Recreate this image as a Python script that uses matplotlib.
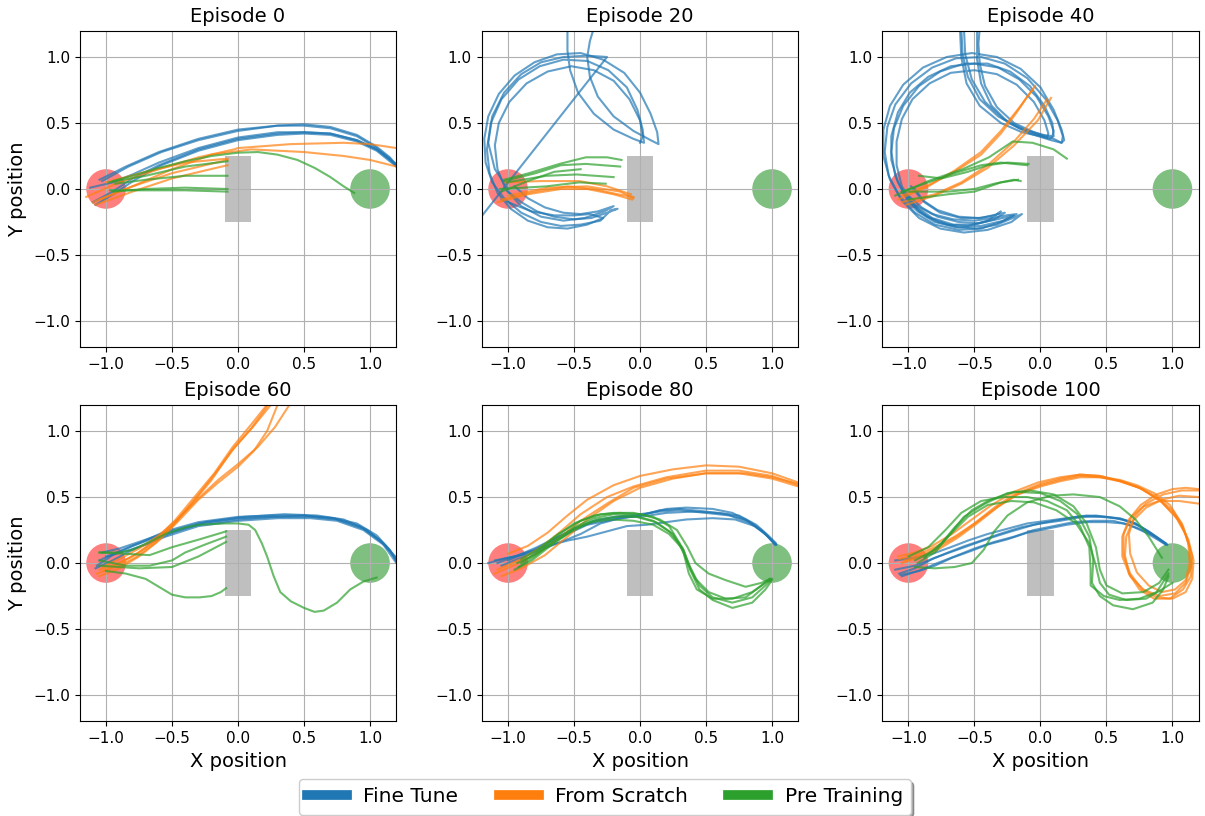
import matplotlib.pyplot as plt
from matplotlib.patches import Circle, Rectangle
from matplotlib.lines import Line2D

episodes = [0, 20, 40, 60, 80, 100]
methods = ["Fine Tune", "From Scratch", "Pre Training"]
colors = ["tab:blue", "tab:orange", "tab:green"]

# trajectories, (x, y) per step

# ---- episode 0
ep0_fine = [
    [(-1.05, 0.07), (-0.85, 0.17), (-0.6, 0.28), (-0.3, 0.38), (0.0, 0.45), (0.3, 0.48), (0.5, 0.49), (0.7, 0.47), (0.9, 0.41), (1.05, 0.32), (1.15, 0.24), (1.2, 0.18)],
    [(-1.03, 0.06), (-0.83, 0.17), (-0.58, 0.28), (-0.3, 0.37), (0.0, 0.44), (0.3, 0.48), (0.5, 0.48), (0.7, 0.46), (0.9, 0.4), (1.05, 0.31), (1.15, 0.23), (1.2, 0.17)],
    [(-1.1, -0.1), (-0.95, -0.02), (-0.8, 0.08), (-0.6, 0.18), (-0.3, 0.3), (0.0, 0.38), (0.3, 0.42), (0.5, 0.43), (0.7, 0.42), (0.9, 0.37), (1.05, 0.3), (1.2, 0.18)],
    [(-1.08, -0.12), (-0.93, -0.03), (-0.78, 0.07), (-0.58, 0.18), (-0.3, 0.29), (0.0, 0.37), (0.3, 0.41), (0.5, 0.42), (0.7, 0.41), (0.9, 0.36), (1.05, 0.29), (1.2, 0.17)],
    [(-1.12, 0.01), (-0.95, 0.05), (-0.8, 0.11), (-0.6, 0.2), (-0.3, 0.31), (0.0, 0.39), (0.3, 0.43), (0.5, 0.43), (0.7, 0.42), (0.9, 0.37), (1.05, 0.3), (1.2, 0.19)],
]
ep0_scratch = [
    [(-1.15, -0.06), (-0.9, 0.05), (-0.6, 0.15), (-0.3, 0.24), (-0.03, 0.3), (0.0, 0.31), (0.4, 0.34), (0.8, 0.35), (1.0, 0.34), (1.2, 0.31)],
    [(-1.1, -0.1), (-0.8, 0.02), (-0.5, 0.15), (-0.2, 0.26), (0.1, 0.3), (0.5, 0.28), (0.8, 0.25), (1.0, 0.22), (1.2, 0.17)],
    [(-1.05, -0.08), (-0.8, 0.02), (-0.5, 0.12), (-0.25, 0.18), (-0.08, 0.22)],
    [(-1.08, -0.12), (-0.8, -0.02), (-0.5, 0.08), (-0.25, 0.14), (-0.08, 0.18)],
    [(-1.0, 0.05), (-0.7, 0.13), (-0.4, 0.2), (-0.08, 0.23)],
]
ep0_pre = [
    [(-0.95, 0.06), (-0.8, 0.1), (-0.6, 0.16), (-0.4, 0.21), (-0.2, 0.25), (0.0, 0.275), (0.15, 0.28), (0.3, 0.26),
     (0.45, 0.22), (0.58, 0.16), (0.7, 0.09), (0.8, 0.02), (0.88, -0.03)],
    [(-0.98, 0.05), (-0.7, 0.1), (-0.4, 0.17), (-0.08, 0.21)],
    [(-0.93, 0.04), (-0.7, 0.07), (-0.4, 0.1), (-0.08, 0.1)],
    [(-0.95, -0.02), (-0.7, 0.0), (-0.4, 0.01), (-0.08, 0.0)],
    [(-0.97, -0.01), (-0.7, -0.01), (-0.4, -0.01), (-0.08, -0.02)],
]

# ---- episode 20
ep20_fine = [
    [(-1.0, -0.02), (-0.9, -0.1), (-0.78, -0.17), (-0.65, -0.21), (-0.5, -0.23), (-0.37, -0.22), (-0.25, -0.18), (-0.17, -0.15),
     (-0.22, -0.16), (-0.3, -0.24), (-0.45, -0.27), (-0.6, -0.28), (-0.75, -0.25), (-0.9, -0.18), (-1.03, -0.07), (-1.12, 0.05),
     (-1.17, 0.2), (-1.18, 0.38), (-1.15, 0.55), (-1.07, 0.72), (-0.95, 0.86), (-0.8, 0.96), (-0.63, 1.02), (-0.45, 1.03),
     (-0.28, 0.98), (-0.12, 0.88), (0.0, 0.73), (0.08, 0.57), (0.13, 0.43), (0.14, 0.34), (0.08, 0.37), (-0.05, 0.44),
     (-0.2, 0.55), (-0.32, 0.7), (-0.38, 0.85), (-0.4, 1.0), (-0.38, 1.12), (-0.35, 1.22)],
    [(-1.05, -0.08), (-0.95, -0.12), (-0.82, -0.17), (-0.65, -0.2), (-0.5, -0.2), (-0.38, -0.19), (-0.28, -0.22),
     (-0.4, -0.27), (-0.55, -0.3), (-0.7, -0.29), (-0.85, -0.24), (-0.98, -0.15), (-1.08, -0.03), (-1.14, 0.12),
     (-1.16, 0.3), (-1.13, 0.5), (-1.05, 0.68), (-0.92, 0.83), (-0.76, 0.93), (-0.58, 0.98), (-0.4, 0.97), (-0.24, 0.9),
     (-0.1, 0.77), (-0.02, 0.6), (0.02, 0.45), (0.03, 0.35), (-0.05, 0.38), (-0.2, 0.45), (-0.35, 0.57), (-0.47, 0.73),
     (-0.53, 0.9), (-0.55, 1.05), (-0.55, 1.22)],
    [(-0.95, 0.02), (-0.85, -0.07), (-0.72, -0.14), (-0.58, -0.18), (-0.45, -0.19), (-0.32, -0.17), (-0.2, -0.13),
     (-0.27, -0.17), (-0.42, -0.22), (-0.58, -0.24), (-0.75, -0.21), (-0.9, -0.13), (-1.02, 0.0), (-1.08, 0.15),
     (-1.1, 0.33), (-1.07, 0.5), (-0.99, 0.66), (-0.86, 0.8), (-0.7, 0.89), (-0.52, 0.93), (-0.35, 0.9), (-0.2, 0.82),
     (-0.08, 0.68), (0.0, 0.52), (0.02, 0.4), (0.0, 0.35)],
    [(-1.0, 0.0), (-1.1, 0.15), (-1.15, 0.35), (-1.12, 0.55), (-1.03, 0.73), (-0.9, 0.87), (-0.75, 0.96), (-0.58, 1.0),
     (-0.4, 1.01), (-0.25, 1.0), (-1.25, -0.27)],
]
ep20_scratch = [
    [(-1.08, -0.1), (-0.85, -0.04), (-0.6, 0.0), (-0.4, 0.0), (-0.2, -0.04), (-0.06, -0.08)],
    [(-1.05, -0.08), (-0.8, -0.02), (-0.55, 0.02), (-0.35, 0.0), (-0.17, -0.04), (-0.05, -0.06)],
    [(-1.02, 0.05), (-0.75, 0.06), (-0.46, 0.06), (-0.25, 0.02), (-0.07, -0.04)],
    [(-1.0, -0.05), (-0.7, 0.01), (-0.4, 0.02), (-0.15, -0.02), (-0.05, -0.07)],
]
ep20_pre = [
    [(-1.03, 0.07), (-0.84, 0.12), (-0.61, 0.19), (-0.41, 0.24), (-0.25, 0.24), (-0.14, 0.22)],
    [(-1.03, 0.06), (-0.79, 0.12), (-0.6, 0.18), (-0.41, 0.19), (-0.15, 0.17)],
    [(-1.01, 0.05), (-0.71, 0.1), (-0.48, 0.11), (-0.2, 0.09)],
    [(-1.06, 0.0), (-0.71, 0.02), (-0.46, 0.05), (-0.26, 0.04)],
    [(-1.05, -0.02), (-0.85, 0.06), (-0.65, 0.13), (-0.45, 0.15)],
]

# ---- episode 40
ep40_fine = [
    [(-1.0, -0.05), (-0.9, -0.14), (-0.78, -0.21), (-0.62, -0.25), (-0.47, -0.26), (-0.33, -0.23), (-0.2, -0.2),
     (-0.3, -0.25), (-0.45, -0.3), (-0.62, -0.31), (-0.8, -0.27), (-0.95, -0.18), (-1.07, -0.05), (-1.15, 0.1),
     (-1.18, 0.28), (-1.16, 0.47), (-1.1, 0.64), (-0.98, 0.8), (-0.82, 0.92), (-0.64, 0.99), (-0.45, 1.0), (-0.27, 0.95),
     (-0.1, 0.84), (0.04, 0.68), (0.13, 0.52), (0.17, 0.4), (0.16, 0.35), (0.1, 0.38), (-0.05, 0.43), (-0.2, 0.5),
     (-0.33, 0.62), (-0.42, 0.78), (-0.46, 0.95), (-0.47, 1.1), (-0.46, 1.22)],
    [(-1.05, -0.02), (-0.95, -0.12), (-0.82, -0.19), (-0.66, -0.23), (-0.5, -0.24), (-0.36, -0.22), (-0.26, -0.2), (-0.18, -0.19),
     (-0.28, -0.24), (-0.45, -0.28), (-0.62, -0.29), (-0.78, -0.25), (-0.92, -0.17), (-1.03, -0.05), (-1.1, 0.1),
     (-1.13, 0.28), (-1.11, 0.46), (-1.04, 0.63), (-0.92, 0.78), (-0.76, 0.89), (-0.58, 0.95), (-0.4, 0.95), (-0.23, 0.89),
     (-0.08, 0.78), (0.03, 0.63), (0.09, 0.5), (0.1, 0.4), (0.07, 0.38), (0.0, 0.4), (-0.14, 0.43), (-0.3, 0.5),
     (-0.46, 0.63), (-0.56, 0.8), (-0.6, 1.0), (-0.61, 1.22)],
    [(-0.95, 0.0), (-0.88, -0.1), (-0.76, -0.18), (-0.6, -0.22), (-0.45, -0.22), (-0.32, -0.19), (-0.27, -0.18),
     (-0.35, -0.23), (-0.5, -0.27), (-0.66, -0.27), (-0.82, -0.22), (-0.96, -0.12), (-1.05, 0.02), (-1.09, 0.18),
     (-1.09, 0.36), (-1.05, 0.53), (-0.97, 0.68), (-0.84, 0.8), (-0.68, 0.88), (-0.5, 0.9), (-0.33, 0.87), (-0.18, 0.79),
     (-0.05, 0.66), (0.03, 0.52), (0.06, 0.42), (0.05, 0.39), (-0.02, 0.41), (-0.16, 0.46), (-0.32, 0.55), (-0.46, 0.68),
     (-0.55, 0.85), (-0.59, 1.02), (-0.6, 1.22)],
    [(-1.02, -0.08), (-0.93, -0.17), (-0.8, -0.25), (-0.64, -0.29), (-0.48, -0.3), (-0.33, -0.27), (-0.21, -0.22), (-0.14, -0.19),
     (-0.22, -0.25), (-0.4, -0.31), (-0.58, -0.33), (-0.76, -0.3), (-0.92, -0.22), (-1.05, -0.09), (-1.14, 0.07),
     (-1.19, 0.25), (-1.19, 0.45), (-1.14, 0.63), (-1.04, 0.79), (-0.89, 0.92), (-0.71, 1.0), (-0.52, 1.03), (-0.33, 1.0),
     (-0.15, 0.91), (0.0, 0.77), (0.1, 0.6), (0.16, 0.45), (0.18, 0.37), (0.16, 0.35), (0.08, 0.37), (-0.08, 0.42),
     (-0.24, 0.5), (-0.37, 0.63), (-0.45, 0.8), (-0.48, 0.98), (-0.48, 1.22)],
    [(-0.98, 0.02), (-0.9, -0.08), (-0.78, -0.16), (-0.62, -0.21), (-0.47, -0.22), (-0.34, -0.2), (-0.3, -0.17),
     (-0.4, -0.24), (-0.55, -0.28), (-0.7, -0.27), (-0.86, -0.21), (-0.99, -0.1), (-1.08, 0.05), (-1.13, 0.22),
     (-1.13, 0.4), (-1.08, 0.58), (-0.99, 0.73), (-0.85, 0.85), (-0.68, 0.93), (-0.5, 0.95), (-0.32, 0.92), (-0.16, 0.83),
     (-0.03, 0.7), (0.06, 0.55), (0.1, 0.44), (0.09, 0.4), (0.02, 0.41), (-0.12, 0.45), (-0.28, 0.53), (-0.42, 0.66),
     (-0.52, 0.83), (-0.57, 1.02), (-0.58, 1.22)],
]
ep40_scratch = [
    [(-1.05, -0.05), (-0.85, 0.03), (-0.65, 0.13), (-0.45, 0.26), (-0.3, 0.42), (-0.18, 0.58), (-0.1, 0.7), (-0.06, 0.75)],
    [(-1.08, -0.08), (-0.85, 0.02), (-0.65, 0.14), (-0.45, 0.28), (-0.3, 0.44), (-0.15, 0.63), (-0.04, 0.78)],
    [(-1.05, -0.1), (-0.8, -0.04), (-0.6, 0.05), (-0.4, 0.18), (-0.2, 0.36), (-0.05, 0.53), (0.05, 0.68)],
    [(-1.02, -0.12), (-0.8, -0.05), (-0.6, 0.04), (-0.4, 0.16), (-0.2, 0.33), (-0.02, 0.52), (0.08, 0.69)],
]
ep40_pre = [
    [(-1.1, -0.05), (-0.85, 0.06), (-0.59, 0.15), (-0.39, 0.24), (-0.21, 0.36), (-0.06, 0.35), (0.1, 0.3), (0.2, 0.23)],
    [(-1.05, -0.02), (-0.85, 0.05), (-0.65, 0.12), (-0.45, 0.18), (-0.3, 0.2), (-0.1, 0.18)],
    [(-0.92, 0.1), (-0.75, 0.08), (-0.55, 0.13), (-0.4, 0.18), (-0.25, 0.2), (-0.09, 0.19)],
    [(-1.0, -0.02), (-0.7, -0.02), (-0.5, 0.0), (-0.35, 0.04), (-0.2, 0.07), (-0.15, 0.06)],
    [(-1.0, -0.08), (-0.7, -0.04), (-0.5, -0.02), (-0.3, 0.05), (-0.17, 0.07)],
]

# ---- episode 60
ep60_fine = [
    [(-1.07, -0.02), (-0.95, 0.06), (-0.8, 0.13), (-0.55, 0.22), (-0.3, 0.29), (0.0, 0.33), (0.25, 0.35), (0.5, 0.36), (0.72, 0.34), (0.9, 0.3), (1.05, 0.21), (1.15, 0.1), (1.2, 0.01)],
    [(-1.05, 0.02), (-0.9, 0.09), (-0.75, 0.15), (-0.55, 0.24), (-0.3, 0.31), (0.0, 0.35), (0.25, 0.36), (0.5, 0.36), (0.72, 0.34), (0.92, 0.28), (1.07, 0.18), (1.16, 0.08), (1.2, 0.02)],
    [(-1.03, 0.08), (-0.9, 0.11), (-0.75, 0.16), (-0.55, 0.23), (-0.3, 0.3), (0.0, 0.34), (0.3, 0.35), (0.55, 0.35), (0.75, 0.33), (0.95, 0.26), (1.1, 0.15), (1.2, 0.03)],
    [(-1.08, -0.04), (-0.95, 0.02), (-0.8, 0.1), (-0.55, 0.2), (-0.3, 0.28), (0.0, 0.32), (0.3, 0.34), (0.55, 0.34), (0.75, 0.32), (0.95, 0.25), (1.1, 0.14), (1.2, 0.0)],
    [(-1.0, 0.05), (-0.85, 0.09), (-0.7, 0.14), (-0.5, 0.23), (-0.25, 0.31), (0.05, 0.35), (0.35, 0.37), (0.6, 0.36), (0.8, 0.33), (0.98, 0.25), (1.12, 0.13), (1.2, 0.04)],
]
ep60_scratch = [
    [(-1.05, -0.05), (-0.9, 0.0), (-0.8, 0.05), (-0.65, 0.15), (-0.5, 0.28), (-0.35, 0.45), (-0.2, 0.63), (-0.05, 0.85), (0.1, 1.02), (0.23, 1.2)],
    [(-1.07, -0.08), (-0.9, -0.02), (-0.78, 0.04), (-0.63, 0.15), (-0.48, 0.3), (-0.33, 0.48), (-0.18, 0.67), (-0.03, 0.87), (0.12, 1.04), (0.25, 1.2)],
    [(-1.03, -0.03), (-0.88, 0.04), (-0.75, 0.11), (-0.6, 0.21), (-0.45, 0.34), (-0.3, 0.49), (-0.15, 0.63), (0.0, 0.75), (0.15, 0.88), (0.28, 1.03), (0.39, 1.2)],
    [(-1.05, -0.1), (-0.9, -0.04), (-0.75, 0.05), (-0.6, 0.17), (-0.45, 0.32), (-0.3, 0.48), (-0.15, 0.61), (0.0, 0.73), (0.12, 0.85), (0.22, 1.0), (0.3, 1.2)],
    [(-1.02, -0.06), (-0.88, 0.01), (-0.75, 0.08), (-0.62, 0.18), (-0.48, 0.32), (-0.33, 0.5), (-0.18, 0.68), (-0.04, 0.88), (0.1, 1.05), (0.22, 1.2)],
]
ep60_pre = [
    [(-1.05, 0.08), (-0.9, 0.08), (-0.8, 0.1), (-0.65, 0.17), (-0.55, 0.22), (-0.4, 0.27), (-0.29, 0.29), (-0.1, 0.3),
     (0.0, 0.3), (0.08, 0.29), (0.13, 0.25), (0.18, 0.15), (0.22, 0.05), (0.27, -0.1), (0.32, -0.22), (0.4, -0.29),
     (0.5, -0.34), (0.58, -0.37), (0.65, -0.36), (0.75, -0.3), (0.85, -0.2), (0.95, -0.14), (1.05, -0.11)],
    [(-1.05, 0.08), (-0.85, 0.07), (-0.67, 0.06), (-0.5, 0.12), (-0.29, 0.18), (-0.09, 0.24)],
    [(-1.05, 0.02), (-0.85, -0.02), (-0.67, -0.02), (-0.5, 0.02), (-0.4, 0.08), (-0.25, 0.14), (-0.09, 0.2)],
    [(-1.05, -0.02), (-0.75, -0.04), (-0.5, -0.03), (-0.3, 0.05), (-0.09, 0.16)],
    [(-1.0, -0.06), (-0.85, -0.08), (-0.7, -0.12), (-0.6, -0.18), (-0.5, -0.24), (-0.4, -0.26), (-0.29, -0.26),
     (-0.2, -0.25), (-0.13, -0.22), (-0.09, -0.19)],
]

# ---- episode 80
ep80_fine = [
    [(-1.15, 0.0), (-1.0, 0.04), (-0.85, 0.07), (-0.7, 0.14), (-0.55, 0.22), (-0.4, 0.29), (-0.2, 0.33), (0.0, 0.36), (0.15, 0.4), (0.3, 0.41), (0.5, 0.39), (0.65, 0.37), (0.8, 0.33), (0.92, 0.25), (1.03, 0.14)],
    [(-1.1, 0.02), (-0.95, 0.05), (-0.8, 0.1), (-0.65, 0.18), (-0.5, 0.26), (-0.35, 0.32), (-0.2, 0.35), (0.0, 0.37), (0.15, 0.39), (0.3, 0.4), (0.5, 0.38), (0.68, 0.36), (0.82, 0.31), (0.94, 0.23), (1.03, 0.14)],
    [(-1.05, -0.02), (-0.9, 0.04), (-0.75, 0.1), (-0.6, 0.16), (-0.45, 0.22), (-0.3, 0.3), (-0.15, 0.34), (0.0, 0.36), (0.2, 0.41), (0.35, 0.42), (0.55, 0.41), (0.7, 0.38), (0.85, 0.3), (0.95, 0.22), (1.02, 0.14)],
    [(-1.0, 0.02), (-0.85, 0.08), (-0.7, 0.13), (-0.55, 0.17), (-0.4, 0.2), (-0.25, 0.24), (-0.1, 0.28), (0.05, 0.29), (0.2, 0.31), (0.35, 0.33), (0.55, 0.34), (0.72, 0.33), (0.87, 0.28), (0.97, 0.2), (1.03, 0.14)],
    [(-1.08, 0.0), (-0.92, 0.06), (-0.78, 0.12), (-0.62, 0.2), (-0.47, 0.27), (-0.32, 0.32), (-0.15, 0.35), (0.0, 0.35), (0.2, 0.38), (0.4, 0.39), (0.6, 0.38), (0.75, 0.36), (0.88, 0.29), (0.97, 0.21), (1.03, 0.15)],
]
ep80_scratch = [
    [(-1.0, 0.07), (-0.85, 0.13), (-0.7, 0.23), (-0.55, 0.36), (-0.4, 0.48), (-0.2, 0.59), (0.0, 0.66), (0.25, 0.71), (0.5, 0.74), (0.75, 0.73), (1.0, 0.68), (1.2, 0.61)],
    [(-1.08, -0.05), (-0.9, 0.03), (-0.75, 0.12), (-0.6, 0.24), (-0.45, 0.37), (-0.25, 0.5), (-0.05, 0.58), (0.2, 0.65), (0.5, 0.7), (0.75, 0.7), (1.0, 0.66), (1.2, 0.59)],
    [(-1.1, -0.08), (-0.92, 0.0), (-0.75, 0.09), (-0.6, 0.2), (-0.45, 0.32), (-0.25, 0.45), (-0.05, 0.57), (0.2, 0.64), (0.5, 0.68), (0.75, 0.68), (1.0, 0.64), (1.2, 0.58)],
    [(-1.05, -0.1), (-0.9, -0.04), (-0.72, 0.06), (-0.55, 0.2), (-0.4, 0.33), (-0.2, 0.47), (0.0, 0.57), (0.25, 0.64), (0.5, 0.68), (0.8, 0.68), (1.0, 0.65), (1.2, 0.6)],
]
ep80_pre = [
    [(-0.9, 0.0), (-0.8, 0.07), (-0.65, 0.19), (-0.5, 0.3), (-0.35, 0.36), (-0.2, 0.38), (-0.05, 0.38), (0.1, 0.35), (0.22, 0.28), (0.3, 0.15), (0.36, 0.0), (0.42, -0.12), (0.52, -0.22), (0.65, -0.27), (0.8, -0.26), (0.92, -0.17), (0.98, -0.12)],
    [(-0.92, -0.03), (-0.8, 0.05), (-0.65, 0.17), (-0.5, 0.27), (-0.35, 0.34), (-0.2, 0.37), (-0.05, 0.36), (0.1, 0.32), (0.22, 0.24), (0.32, 0.12), (0.38, -0.03), (0.45, -0.17), (0.55, -0.26), (0.7, -0.3), (0.85, -0.26), (0.95, -0.17), (0.99, -0.13)],
    [(-0.95, -0.05), (-0.82, 0.02), (-0.68, 0.13), (-0.52, 0.24), (-0.37, 0.31), (-0.22, 0.33), (-0.05, 0.32), (0.1, 0.29), (0.22, 0.22), (0.33, 0.1), (0.38, -0.05), (0.45, -0.2), (0.55, -0.28), (0.7, -0.34), (0.85, -0.3), (0.95, -0.2), (1.0, -0.13)],
    [(-0.9, 0.03), (-0.78, 0.1), (-0.62, 0.22), (-0.45, 0.32), (-0.3, 0.37), (-0.15, 0.38), (0.0, 0.37), (0.15, 0.33), (0.28, 0.25), (0.36, 0.12), (0.42, 0.0), (0.52, -0.08), (0.65, -0.13), (0.8, -0.18), (0.92, -0.15), (0.99, -0.12)],
    [(-0.93, 0.0), (-0.8, 0.06), (-0.66, 0.15), (-0.5, 0.26), (-0.33, 0.33), (-0.18, 0.35), (-0.03, 0.35), (0.12, 0.31), (0.25, 0.22), (0.33, 0.08), (0.37, -0.08), (0.43, -0.2), (0.55, -0.27), (0.7, -0.27), (0.85, -0.22), (0.95, -0.15), (1.0, -0.12)],
]

# ---- episode 100
ep100_fine = [
    [(-1.07, -0.08), (-0.95, -0.04), (-0.82, 0.03), (-0.7, 0.08), (-0.57, 0.13), (-0.45, 0.17), (-0.31, 0.22), (-0.15, 0.27), (0.0, 0.3), (0.15, 0.32), (0.32, 0.35), (0.45, 0.35), (0.6, 0.34), (0.72, 0.3), (0.83, 0.23), (0.95, 0.14)],
    [(-1.05, -0.1), (-0.9, -0.05), (-0.78, 0.0), (-0.65, 0.05), (-0.5, 0.11), (-0.35, 0.16), (-0.2, 0.2), (-0.05, 0.25), (0.1, 0.28), (0.25, 0.31), (0.4, 0.32), (0.55, 0.32), (0.67, 0.29), (0.8, 0.23), (0.95, 0.14)],
    [(-1.1, 0.02), (-0.95, 0.04), (-0.82, 0.07), (-0.68, 0.12), (-0.55, 0.17), (-0.4, 0.22), (-0.25, 0.26), (-0.1, 0.3), (0.05, 0.32), (0.2, 0.34), (0.35, 0.36), (0.5, 0.35), (0.62, 0.33), (0.75, 0.28), (0.86, 0.21), (0.96, 0.14)],
    [(-1.1, -0.05), (-0.95, -0.02), (-0.8, 0.04), (-0.66, 0.09), (-0.52, 0.14), (-0.38, 0.19), (-0.22, 0.24), (-0.05, 0.29), (0.1, 0.32), (0.27, 0.35), (0.42, 0.36), (0.57, 0.34), (0.7, 0.31), (0.82, 0.24), (0.95, 0.15)],
    [(-1.06, -0.09), (-0.92, -0.06), (-0.8, -0.02), (-0.67, 0.04), (-0.53, 0.09), (-0.4, 0.14), (-0.25, 0.18), (-0.1, 0.23), (0.05, 0.26), (0.2, 0.29), (0.35, 0.31), (0.5, 0.31), (0.63, 0.3), (0.75, 0.26), (0.87, 0.2), (0.96, 0.14)],
]
ep100_scratch = [
    [(-1.07, 0.03), (-0.92, 0.07), (-0.8, 0.12), (-0.65, 0.2), (-0.5, 0.3), (-0.35, 0.42), (-0.2, 0.52), (0.0, 0.6), (0.15, 0.64), (0.3, 0.67), (0.45, 0.66), (0.6, 0.62), (0.75, 0.57), (0.88, 0.5), (1.0, 0.4), (1.08, 0.28),
     (1.13, 0.12), (1.14, -0.03), (1.1, -0.15), (1.02, -0.23), (0.9, -0.25), (0.78, -0.2), (0.68, -0.1), (0.62, 0.05), (0.62, 0.2), (0.67, 0.33), (0.76, 0.44), (0.88, 0.52), (1.0, 0.56), (1.1, 0.57), (1.2, 0.56)],
    [(-1.05, 0.0), (-0.9, 0.05), (-0.78, 0.1), (-0.63, 0.19), (-0.48, 0.3), (-0.33, 0.42), (-0.18, 0.52), (0.0, 0.59), (0.15, 0.63), (0.3, 0.66), (0.45, 0.65), (0.6, 0.62), (0.75, 0.57), (0.9, 0.48), (1.02, 0.36), (1.1, 0.22),
     (1.15, 0.05), (1.14, -0.1), (1.08, -0.2), (0.98, -0.27), (0.86, -0.27), (0.75, -0.2), (0.67, -0.08), (0.64, 0.06), (0.65, 0.2), (0.7, 0.32), (0.8, 0.42), (0.92, 0.48), (1.05, 0.51), (1.2, 0.5)],
    [(-1.08, 0.05), (-0.95, 0.08), (-0.82, 0.13), (-0.67, 0.22), (-0.52, 0.33), (-0.37, 0.44), (-0.2, 0.54), (-0.02, 0.61), (0.15, 0.65), (0.3, 0.67), (0.45, 0.66), (0.62, 0.62), (0.77, 0.56), (0.92, 0.46), (1.04, 0.33), (1.12, 0.18),
     (1.16, 0.02), (1.15, -0.12), (1.1, -0.22), (1.0, -0.27), (0.88, -0.26), (0.77, -0.2), (0.68, -0.08), (0.63, 0.06), (0.63, 0.22), (0.69, 0.35), (0.78, 0.43), (0.9, 0.47), (1.05, 0.47), (1.2, 0.45)],
    [(-1.03, 0.02), (-0.9, 0.06), (-0.77, 0.12), (-0.62, 0.21), (-0.47, 0.32), (-0.32, 0.43), (-0.17, 0.52), (0.0, 0.58), (0.15, 0.62), (0.3, 0.65), (0.45, 0.65), (0.6, 0.63), (0.73, 0.59), (0.86, 0.53), (0.98, 0.44), (1.07, 0.3),
     (1.12, 0.15), (1.13, 0.0), (1.1, -0.13), (1.02, -0.2), (0.92, -0.22), (0.82, -0.17), (0.73, -0.07), (0.68, 0.07), (0.67, 0.22), (0.71, 0.35), (0.8, 0.45), (0.93, 0.52), (1.07, 0.55), (1.2, 0.55)],
]
ep100_pre = [
    [(-0.88, 0.04), (-0.75, 0.15), (-0.65, 0.27), (-0.52, 0.4), (-0.38, 0.48), (-0.2, 0.54), (0.0, 0.53), (0.15, 0.47), (0.28, 0.37), (0.37, 0.2), (0.4, 0.02), (0.39, -0.15), (0.45, -0.25), (0.55, -0.32), (0.7, -0.35), (0.85, -0.3), (0.93, -0.2), (0.97, -0.1)],
    [(-0.95, 0.02), (-0.8, 0.1), (-0.68, 0.22), (-0.55, 0.35), (-0.4, 0.44), (-0.22, 0.47), (-0.05, 0.46), (0.12, 0.4), (0.27, 0.3), (0.37, 0.15), (0.42, -0.02), (0.45, -0.15), (0.52, -0.24), (0.65, -0.28), (0.8, -0.27), (0.92, -0.2), (1.0, -0.15)],
    [(-0.95, -0.03), (-0.8, -0.04), (-0.65, -0.03), (-0.52, 0.0), (-0.43, 0.1), (-0.35, 0.24), (-0.25, 0.36), (-0.1, 0.46), (0.08, 0.51), (0.25, 0.52), (0.45, 0.5), (0.6, 0.43), (0.72, 0.33), (0.82, 0.2), (0.92, 0.04)],
    [(-1.0, 0.05), (-0.85, 0.12), (-0.72, 0.25), (-0.6, 0.38), (-0.45, 0.47), (-0.28, 0.5), (-0.1, 0.5), (0.05, 0.47), (0.2, 0.4), (0.3, 0.28), (0.37, 0.12), (0.38, -0.05), (0.38, -0.17), (0.48, -0.25), (0.6, -0.28), (0.75, -0.27), (0.88, -0.22), (0.97, -0.08)],
    [(-0.93, 0.0), (-0.8, 0.08), (-0.7, 0.2), (-0.58, 0.35), (-0.42, 0.45), (-0.25, 0.53), (-0.08, 0.55), (0.1, 0.52), (0.25, 0.43), (0.35, 0.3), (0.42, 0.12), (0.45, -0.05), (0.5, -0.17), (0.62, -0.23), (0.78, -0.22), (0.9, -0.15), (0.97, -0.05)],
]

runs = {
    0: [ep0_fine, ep0_scratch, ep0_pre],
    20: [ep20_fine, ep20_scratch, ep20_pre],
    40: [ep40_fine, ep40_scratch, ep40_pre],
    60: [ep60_fine, ep60_scratch, ep60_pre],
    80: [ep80_fine, ep80_scratch, ep80_pre],
    100: [ep100_fine, ep100_scratch, ep100_pre],
}

start = (-1.0, 0.0)
goal = (1.0, 0.0)
radius = 0.15


def draw_episode(ax, ep):
    ax.add_patch(Circle(start, radius, facecolor='red', edgecolor='none', alpha=0.5))
    ax.add_patch(Circle(goal, radius, facecolor='green', edgecolor='none', alpha=0.5))
    ax.add_patch(Rectangle((-0.1, -0.25), 0.2, 0.5, facecolor='gray', edgecolor='none', alpha=0.5))

    for trajs, c in zip(runs[ep], colors):
        for t in trajs:
            xs = [p[0] for p in t]
            ys = [p[1] for p in t]
            ax.plot(xs, ys, color=c, alpha=0.7, lw=1.5)

    ax.set_xlim(-1.2, 1.2)
    ax.set_ylim(-1.2, 1.2)
    ax.set_aspect('equal')
    ax.set_xticks([-1.0, -0.5, 0.0, 0.5, 1.0])
    ax.set_yticks([-1.0, -0.5, 0.0, 0.5, 1.0])
    ax.tick_params(labelsize=11)
    ax.grid(True)
    ax.set_title("Episode {}".format(ep), fontsize=14)


fig = plt.figure(figsize=(12.05, 8.16), dpi=100)

lefts = [0.0661, 0.3997, 0.732]
bottoms = [0.5743, 0.1159]
w, h = 0.2629, 0.3882

for i, ep in enumerate(episodes):
    row, col = i // 3, i % 3
    ax = fig.add_axes([lefts[col], bottoms[row], w, h])
    draw_episode(ax, ep)
    if col == 0:
        ax.set_ylabel("Y position", fontsize=14)
    if row == 1:
        ax.set_xlabel("X position", fontsize=14)

handles = [Line2D([0], [0], color=c, lw=7) for c in colors]
fig.legend(handles, methods, loc='center', bbox_to_anchor=(0.502, 0.0233),
           ncol=3, fontsize=14.5, shadow=True)

fig.savefig("out.png", dpi=100)
